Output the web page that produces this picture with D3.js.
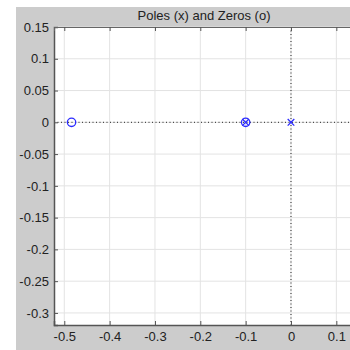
<!DOCTYPE html>
<html>
<head>
<meta charset="utf-8">
<script src="https://cdn.jsdelivr.net/npm/d3@7"></script>
<style>
  body { margin: 0; background: #fff; }
  text { font-family: "Liberation Sans", Arial, sans-serif; }
</style>
</head>
<body>
<div id="chart"></div>
<script>
// pole / zero locations (real, imag)
const poles = [[-0.1, 0], [0, 0]];
const zeros = [[-0.484, 0], [-0.1, 0]];
const xTicks = [-0.5, -0.4, -0.3, -0.2, -0.1, 0, 0.1];
const yTicks = [0.15, 0.1, 0.05, 0, -0.05, -0.1, -0.15, -0.2, -0.25, -0.3];
const title = "Poles (x) and Zeros (o)";

const W = 350, H = 350;
const margin = {top: 27, left: 54, bottom: 25, right: -9};

const svg = d3.select("#chart")
    .append("svg")
    .attr("width", W)
    .attr("height", H);

// figure background
svg.append("rect")
    .attr("x", 16).attr("y", 7)
    .attr("width", W - 16).attr("height", H - 7)
    .attr("fill", "#cccccc");

const x = d3.scaleLinear()
    .domain([-0.5227, 0.15])
    .range([margin.left, W - margin.right]);
const y = d3.scaleLinear()
    .domain([-0.319, 0.15])
    .range([H - margin.bottom, margin.top]);

const x0 = x.range()[0], x1 = x.range()[1];
const y0 = y.range()[1], y1 = y.range()[0];

// plot area
svg.append("rect")
    .attr("x", x0).attr("y", y0)
    .attr("width", x1 - x0).attr("height", y1 - y0)
    .attr("fill", "#fff");

// grid
svg.append("g").selectAll("line")
    .data(xTicks)
    .join("line")
    .attr("x1", d => x(d)).attr("x2", d => x(d))
    .attr("y1", y0).attr("y2", y1)
    .attr("stroke", "#e3e3e3");
svg.append("g").selectAll("line")
    .data(yTicks)
    .join("line")
    .attr("x1", x0).attr("x2", x1)
    .attr("y1", d => y(d)).attr("y2", d => y(d))
    .attr("stroke", "#e3e3e3");

// dotted axes through origin
svg.append("line")
    .attr("x1", x0).attr("x2", x1)
    .attr("y1", y(0)).attr("y2", y(0))
    .attr("stroke", "#222").attr("stroke-dasharray", "1,2.5");
svg.append("line")
    .attr("x1", x(0)).attr("x2", x(0))
    .attr("y1", y0).attr("y2", y1)
    .attr("stroke", "#222").attr("stroke-dasharray", "1,2.5");

// plain hyphen minus, like the original
const fmt = d => String(d);

// axes (ticks inward)
const axL = svg.append("g")
    .attr("transform", `translate(${x0},0)`)
    .call(d3.axisLeft(y).tickValues(yTicks).tickSize(-4).tickPadding(5).tickFormat(fmt));
const axB = svg.append("g")
    .attr("transform", `translate(0,${y1})`)
    .call(d3.axisBottom(x).tickValues(xTicks).tickSize(-4).tickPadding(7).tickFormat(fmt));
const axT = svg.append("g")
    .attr("transform", `translate(0,${y0})`)
    .call(d3.axisTop(x).tickValues(xTicks).tickSize(-4).tickFormat(""));

[axL, axB, axT].forEach(a => {
    a.select(".domain").attr("stroke", "#555").attr("stroke-width", 1.5);
    a.selectAll(".tick line").attr("stroke", "#555");
    a.selectAll("text").attr("fill", "#222").style("font-size", "13px");
});
axT.select(".domain").attr("stroke-width", 1).attr("stroke", "#666");

// zeros
svg.append("g").selectAll("circle")
    .data(zeros)
    .join("circle")
    .attr("cx", d => x(d[0])).attr("cy", d => y(d[1]))
    .attr("r", 4.2)
    .attr("fill", "none")
    .attr("stroke", "#2b2bff")
    .attr("stroke-width", 1.3);

// poles
const s = 3.3;
svg.append("g").selectAll("path")
    .data(poles)
    .join("path")
    .attr("d", d => {
        const cx = x(d[0]), cy = y(d[1]);
        return `M${cx - s},${cy - s}L${cx + s},${cy + s}M${cx - s},${cy + s}L${cx + s},${cy - s}`;
    })
    .attr("stroke", "#2b2bff")
    .attr("stroke-width", 1.3);

// title
svg.append("text")
    .attr("x", 204).attr("y", 20)
    .attr("text-anchor", "middle")
    .style("font-size", "13px")
    .attr("fill", "#222")
    .text(title);
</script>
</body>
</html>
